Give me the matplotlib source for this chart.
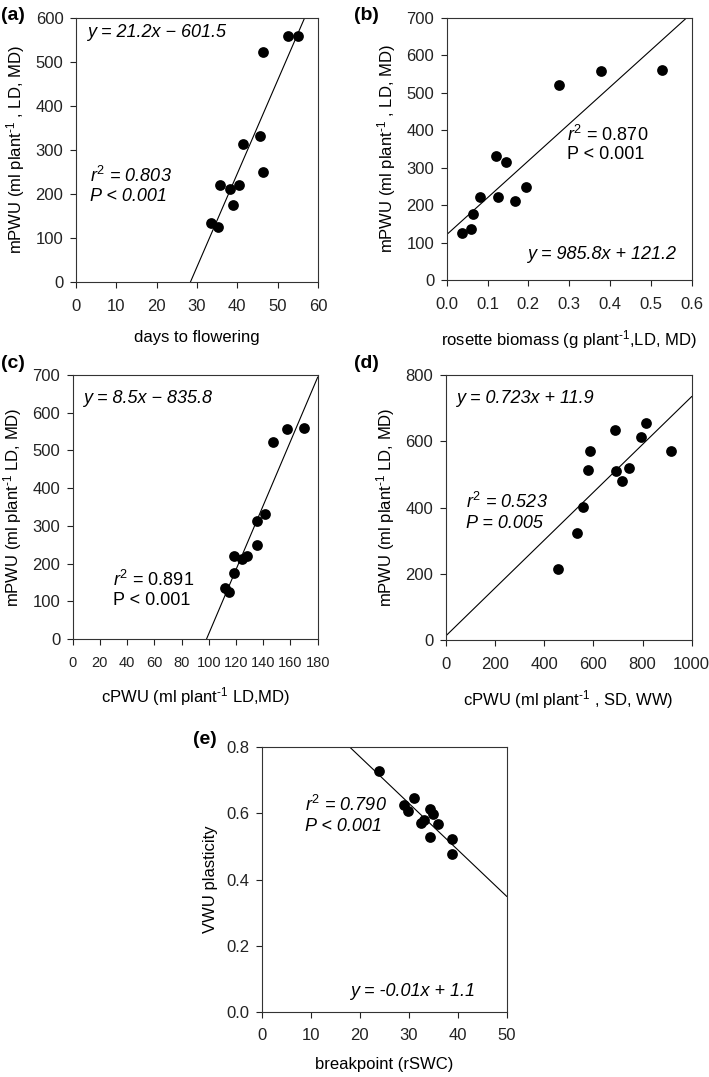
import numpy as np
import matplotlib
matplotlib.use("Agg")
import matplotlib.pyplot as plt
from matplotlib.ticker import FormatStrFormatter

plt.rcParams['font.family'] = ['Liberation Sans', 'DejaVu Sans']
plt.rcParams['mathtext.fontset'] = 'custom'
plt.rcParams['mathtext.rm'] = 'Liberation Sans'
plt.rcParams['mathtext.it'] = 'Liberation Sans:italic'
plt.rcParams['font.size'] = 12

# ---------------- data
# mPWU (LD, MD) shared by panels a, b, c
mpwu = [125, 135, 176, 221, 221, 211, 314, 331, 249, 522, 558, 560]
days_flowering = [35.3, 33.4, 38.9, 35.8, 40.4, 38.1, 41.4, 45.5, 46.4, 46.4, 52.6, 55.1]
rosette_biomass = [0.037, 0.060, 0.065, 0.082, 0.125, 0.168, 0.144, 0.120, 0.194, 0.276, 0.377, 0.528]
cpwu_ld = [115.1, 111.9, 118.8, 118.8, 128.3, 124.7, 135.7, 141.3, 135.7, 147.0, 157.2, 170.0]

# panel d
cpwu_sd = [458, 532, 557, 580, 588, 690, 694, 718, 744, 793, 814, 915]
mpwu_d = [213, 322, 401, 513, 572, 634, 509, 481, 519, 612, 656, 572]

# panel e
breakpoint_rswc = [24.0, 29.0, 29.9, 31.0, 32.5, 33.2, 34.3, 34.9, 34.3, 35.9, 38.8, 38.9]
vwu_plasticity = [0.728, 0.624, 0.607, 0.646, 0.570, 0.580, 0.614, 0.598, 0.529, 0.567, 0.522, 0.477]

# regression lines (slope, intercept) as drawn
fit_a = (21.2, -601.5)
fit_b = (985.8, 121.2)
fit_c = (8.5, -835.8)
fit_d = (0.723, 11.9)
fit_e = (-0.0141, 1.054)

W, H = 709, 1077
fig = plt.figure(figsize=(W / 100, H / 100), dpi=100)

LAB = 12      # axis label size
ANN = 13      # annotation size
SUP = r'$^{\text{-1}}$'


def make_axes(l, r, t, b):
    return fig.add_axes([l / W, (H - b) / H, (r - l) / W, (b - t) / H])


def style(ax, xlim, xticks, ylim, yticks):
    ax.set_xlim(*xlim)
    ax.set_ylim(*ylim)
    ax.set_xticks(xticks)
    ax.set_yticks(yticks)
    ax.tick_params(direction='out', length=4, width=0.8, labelsize=12, colors='#222222')
    ax.tick_params(axis='y', pad=5)
    ax.tick_params(axis='x', pad=8)
    for s in ax.spines.values():
        s.set_linewidth(0.8)
        s.set_color('#333333')


def panel(ax, x, y, fit, xlim):
    xs = np.array(xlim)
    ax.plot(xs, fit[0] * xs + fit[1], '-', c='black', lw=0.8)
    ax.scatter(x, y, s=60, c='black', zorder=3, linewidths=0)


# ---------------- (a)
ax = make_axes(76, 318, 18, 282)
panel(ax, days_flowering, mpwu, fit_a, (0, 60))
style(ax, (0, 60), range(0, 61, 10), (0, 600), range(0, 601, 100))
ax.set_xlabel('days to flowering', fontsize=LAB, labelpad=12)
ax.set_ylabel('mPWU (ml plant' + SUP + ' , LD, MD)', fontsize=LAB, labelpad=6)
ax.text(2.8, 566, 'y = 21.2x \u2212 601.5', fontsize=ANN, style='italic', va='center')
ax.text(3.5, 240, '$r^2$ = 0.803', fontsize=ANN, style='italic', va='center')
ax.text(3.5, 195, 'P < 0.001', fontsize=ANN, style='italic', va='center')

# ---------------- (b)
ax = make_axes(446.7, 691.7, 18, 280)
panel(ax, rosette_biomass, mpwu, fit_b, (0, 0.6))
style(ax, (0, 0.6), np.arange(0, 0.61, 0.1), (0, 700), range(0, 701, 100))
ax.xaxis.set_major_formatter(FormatStrFormatter('%.1f'))
ax.set_xlabel('rosette biomass (g plant' + SUP + ',LD, MD)', fontsize=LAB, labelpad=12)
ax.set_ylabel('mPWU (ml plant' + SUP + ' , LD, MD)', fontsize=LAB, labelpad=6)
ax.text(0.295, 388, '$r^2$ = 0.870', fontsize=ANN, va='center')
ax.text(0.295, 334, 'P < 0.001', fontsize=ANN, va='center')
ax.text(0.561, 67, 'y = 985.8x + 121.2', fontsize=ANN, style='italic', va='center', ha='right')

# ---------------- (c)
ax = make_axes(72.7, 317.7, 375, 639)
panel(ax, cpwu_ld, mpwu, fit_c, (0, 180))
style(ax, (0, 180), range(0, 181, 20), (0, 700), range(0, 701, 100))
ax.tick_params(axis='x', labelsize=10.5)
ax.set_xlabel('cPWU (ml plant' + SUP + ' LD,MD)', fontsize=LAB, labelpad=11)
ax.set_ylabel('mPWU (ml plant' + SUP + ' LD, MD)', fontsize=LAB, labelpad=6)
ax.text(7.8, 638, 'y = 8.5x \u2212 835.8', fontsize=ANN, style='italic', va='center')
ax.text(29.9, 156, '$r^2$ = 0.891', fontsize=ANN, va='center')
ax.text(29.9, 102, 'P < 0.001', fontsize=ANN, va='center')

# ---------------- (d)
ax = make_axes(445.7, 691.7, 375, 640)
panel(ax, cpwu_sd, mpwu_d, fit_d, (0, 1000))
style(ax, (0, 1000), range(0, 1001, 200), (0, 800), range(0, 801, 200))
ax.set_xlabel('cPWU (ml plant' + SUP + ' , SD, WW)', fontsize=LAB, labelpad=12)
ax.set_ylabel('mPWU (ml plant' + SUP + ' LD, MD)', fontsize=LAB, labelpad=6)
ax.text(40.6, 730, 'y = 0.723x + 11.9', fontsize=ANN, style='italic', va='center')
ax.text(81, 416, '$r^2$ = 0.523', fontsize=ANN, style='italic', va='center')
ax.text(81, 352, 'P = 0.005', fontsize=ANN, style='italic', va='center')

# ---------------- (e)
ax = make_axes(261.7, 506.7, 747.3, 1011.7)
panel(ax, breakpoint_rswc, vwu_plasticity, fit_e, (0, 50))
style(ax, (0, 50), range(0, 51, 10), (0, 0.8), np.arange(0, 0.81, 0.2))
ax.yaxis.set_major_formatter(FormatStrFormatter('%.1f'))
ax.set_xlabel('breakpoint (rSWC)', fontsize=LAB, labelpad=10)
ax.set_ylabel('VWU plasticity', fontsize=LAB, labelpad=6)
ax.text(8.8, 0.625, '$r^2$ = 0.790', fontsize=ANN, style='italic', va='center')
ax.text(8.8, 0.560, 'P < 0.001', fontsize=ANN, style='italic', va='center')
ax.text(43.5, 0.06, 'y = -0.01x + 1.1', fontsize=ANN, style='italic', va='center', ha='right')

# panel letters
for lab, px, py in [('(a)', 1, 15), ('(b)', 354, 15), ('(c)', 1, 363), ('(d)', 354, 363), ('(e)', 193, 740)]:
    fig.text(px / W, 1 - py / H, lab, fontsize=14, fontweight='bold', va='center', ha='left')

fig.savefig('out.png', dpi=100)
